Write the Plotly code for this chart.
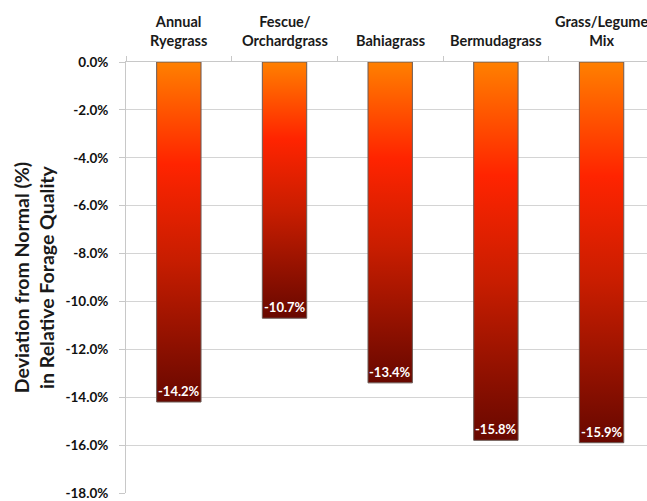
import plotly.graph_objects as go

categories = ["Annual<br>Ryegrass", "Fescue/<br>Orchardgrass", "Bahiagrass", "Bermudagrass", "Grass/Legume<br>Mix"]
values = [-0.142, -0.107, -0.134, -0.158, -0.159]
y_ticks = [0, -0.02, -0.04, -0.06, -0.08, -0.10, -0.12, -0.14, -0.16, -0.18]

half_w = 0.21
fig = go.Figure()
for i, v in enumerate(values):
    fig.add_trace(go.Scatter(
        x=[i - half_w, i + half_w, i + half_w, i - half_w, i - half_w],
        y=[0, 0, v, v, 0],
        mode="lines",
        fill="toself",
        line=dict(color="#6b5a55", width=1),
        fillgradient=dict(
            type="vertical",
            colorscale=[[0, "#680800"], [0.42, "#c81d00"], [0.7, "#ff2400"], [1, "#ff8000"]],
        ),
        hoverinfo="skip",
        showlegend=False,
    ))

for i, v in enumerate(values):
    fig.add_annotation(x=i, y=v, text=f"<b>{v*100:.1f}%</b>", showarrow=False,
                       yanchor="bottom", yshift=1,
                       font=dict(family="Lato, Open Sans, sans-serif", size=13, color="white"))

for i, c in enumerate(categories):
    fig.add_annotation(x=i, xref="x", y=1, yref="paper", text=f"<b>{c}</b>", showarrow=False,
                       yanchor="bottom", yshift=11, align="center",
                       font=dict(family="Lato, Open Sans, sans-serif", size=14.5, color="#1a1a1a"))

fig.update_layout(
    width=647, height=501,
    margin=dict(l=126, r=0, t=62, b=8),
    plot_bgcolor="white", paper_bgcolor="white",
    font=dict(family="Lato, Open Sans, sans-serif", color="#1a1a1a"),
    xaxis=dict(
        side="top",
        range=[-0.5, 4.43],
        tickvals=[],
        showticklabels=False,
        ticks="",
        showgrid=False,
        zeroline=False,
        showline=True, linecolor="#c8c8c8", linewidth=1,
        minor=dict(tickvals=[k - 0.5 for k in range(len(categories) + 1)],
                   ticks="outside", ticklen=5, tickcolor="#c8c8c8", showgrid=False),
        fixedrange=True,
    ),
    yaxis=dict(
        range=[-0.18, 0],
        tickvals=y_ticks,
        ticktext=[f"<b>{t*100:.1f}%</b>" for t in y_ticks],
        tickfont=dict(size=13.5, color="#111111"),
        ticks="outside", ticklen=6, tickcolor="#c8c8c8",
        ticklabelstandoff=8,
        showgrid=True, gridcolor="#d4d4d4", gridwidth=1,
        zeroline=False,
        showline=True, linecolor="#c8c8c8", linewidth=1,
        title=dict(text="<b>Deviation from Normal (%)<br>in Relative Forage Quality</b>",
                   font=dict(size=19.5), standoff=5),
    ),
)

fig.write_html("out.html")
